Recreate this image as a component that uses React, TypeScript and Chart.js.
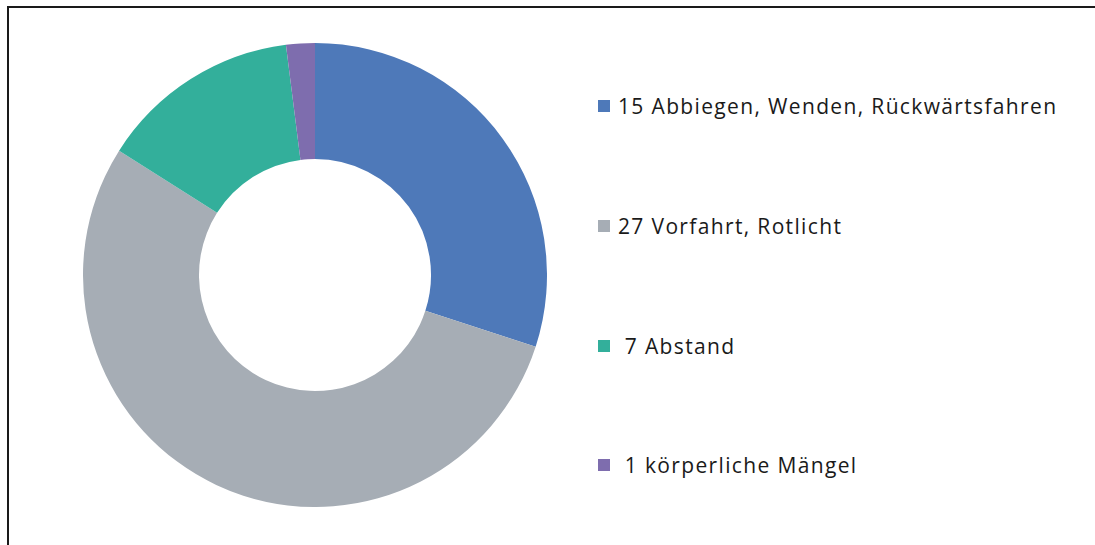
import React, { useEffect, useRef } from "react";
import { Chart, registerables } from "chart.js";

Chart.register(...registerables);

const labels = [
  "15 Abbiegen, Wenden, Rückwärtsfahren",
  "27 Vorfahrt, Rotlicht",
  " 7 Abstand",
  " 1 körperliche Mängel",
];
const values = [15, 27, 7, 1];
const colors = ["#4E79B9", "#A6ADB5", "#33AF9B", "#7E6DAE"];
const legendTops = [106, 226, 346, 465];

export default function App() {
  const ref = useRef<HTMLCanvasElement | null>(null);

  useEffect(() => {
    if (!ref.current) return;
    const chart = new Chart(ref.current, {
      type: "doughnut",
      data: {
        labels,
        datasets: [
          {
            data: values,
            backgroundColor: colors,
            borderWidth: 0,
          },
        ],
      },
      options: {
        animation: false,
        responsive: false,
        maintainAspectRatio: false,
        cutout: "50%",
        layout: { padding: 0 },
        plugins: { legend: { display: false }, tooltip: { enabled: false } },
      },
    });
    return () => chart.destroy();
  }, []);

  return (
    <div
      style={{
        position: "fixed",
        left: 0,
        top: 0,
        width: 1095,
        height: 545,
        background: "#fff",
        overflow: "hidden",
        fontFamily: "'Open Sans', 'Noto Sans', sans-serif",
      }}
    >
      <div
        style={{
          position: "absolute",
          left: 7,
          top: 6,
          width: 1200,
          height: 600,
          borderTop: "2px solid #1a1a1a",
          borderLeft: "2px solid #1a1a1a",
          boxSizing: "border-box",
        }}
      />
      <canvas
        ref={ref}
        width={464}
        height={464}
        style={{ position: "absolute", left: 83, top: 43, width: 464, height: 464 }}
      />
      {labels.map((l, i) => (
        <div
          key={i}
          style={{
            position: "absolute",
            left: 598,
            top: legendTops[i] - 15,
            height: 30,
            display: "flex",
            alignItems: "center",
            whiteSpace: "pre",
            fontSize: 21,
            letterSpacing: "1.35px",
            color: "#1a1a1a",
          }}
        >
          <span
            style={{
              display: "inline-block",
              width: 12,
              height: 12,
              background: colors[i],
              marginRight: 8,
            }}
          />
          <span>{l}</span>
        </div>
      ))}
    </div>
  );
}
